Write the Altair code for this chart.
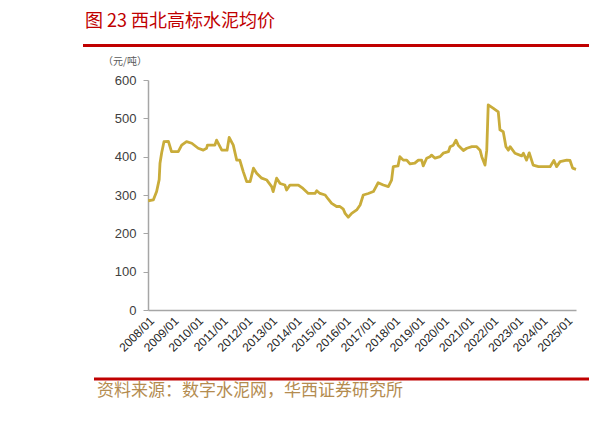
import altair as alt
import pandas as pd

dates = [
    "2008-01-04", "2008-03-20", "2008-05-08", "2008-06-15", "2008-06-27", "2008-07-22",
    "2008-08-25", "2008-10-30", "2008-12-15", "2009-03-25", "2009-05-15", "2009-07-26",
    "2009-10-12", "2010-01-15", "2010-04-01", "2010-05-20", "2010-06-01", "2010-09-20",
    "2010-10-15", "2011-01-01", "2011-03-20", "2011-04-20", "2011-06-20", "2011-08-10",
    "2011-09-25", "2011-11-15", "2012-01-05", "2012-02-25", "2012-04-15", "2012-06-01",
    "2012-08-15", "2012-10-30", "2013-01-10", "2013-02-01", "2013-03-25", "2013-05-15",
    "2013-07-25", "2013-08-20", "2013-10-08", "2014-02-10", "2014-04-20", "2014-07-08",
    "2014-10-15", "2014-11-10", "2014-12-28", "2015-03-15", "2015-05-01", "2015-06-20",
    "2015-09-01", "2015-10-20", "2015-12-10", "2016-01-05", "2016-02-20", "2016-04-12",
    "2016-06-25", "2016-08-15", "2016-10-01", "2016-12-15", "2017-02-28", "2017-05-10",
    "2017-07-25", "2017-10-08", "2017-11-25", "2017-12-20", "2018-03-01", "2018-03-28",
    "2018-05-18", "2018-07-08", "2018-08-25", "2018-11-05", "2018-12-28", "2019-02-15",
    "2019-03-10", "2019-04-30", "2019-06-18", "2019-07-12", "2019-09-01", "2019-11-15",
    "2020-01-01", "2020-03-18", "2020-04-12", "2020-05-30", "2020-07-08", "2020-08-10",
    "2020-10-26", "2020-12-16", "2021-03-01", "2021-05-12", "2021-07-01", "2021-07-26",
    "2021-09-12", "2021-10-08", "2021-10-30", "2022-01-15", "2022-03-28", "2022-04-22",
    "2022-06-10", "2022-07-20", "2022-08-25", "2022-09-20", "2022-12-01", "2023-03-10",
    "2023-04-05", "2023-05-22", "2023-07-01", "2023-08-28", "2023-11-15", "2024-05-05",
    "2024-07-01", "2024-08-10", "2024-10-01", "2025-01-08", "2025-02-25", "2025-04-05",
    "2025-05-25",
]
prices = [
    285, 287, 309, 340, 383, 410,
    439, 440, 413, 413, 430, 439,
    435, 422, 417, 422, 430, 430,
    443, 417, 417, 450, 430, 391,
    391, 361, 335, 335, 370, 357,
    344, 339, 322, 309, 344, 330,
    326, 313, 326, 326, 317, 304,
    304, 311, 304, 300, 289, 278,
    270, 270, 263, 252, 242, 252,
    261, 274, 300, 304, 309, 332,
    326, 322, 339, 374, 376, 400,
    391, 391, 381, 383, 391, 391,
    376, 396, 400, 404, 396, 400,
    409, 413, 426, 430, 443, 430,
    416, 422, 426, 426, 417, 400,
    378, 417, 535, 526, 517, 470,
    465, 426, 417, 426, 409, 402,
    409, 391, 410, 378, 374, 374,
    390, 374, 387, 391, 390, 370,
    367,
]
years = list(range(2008, 2026))
y_ticks = [0, 100, 200, 300, 400, 500, 600]

title_text = "图 23 西北高标水泥均价"
unit_text = "（元/吨）"
source_text = "资料来源：数字水泥网，华西证券研究所"

df = pd.DataFrame({"date": dates, "price": prices})

RED = "#C00000"
CJK = "Noto Sans CJK SC"
LAT = "Liberation Sans"

x_enc = alt.X(
    "date:T",
    scale=alt.Scale(
        type="utc",
        domain=[alt.DateTime(year=2008, month=1, date=1, utc=True),
                alt.DateTime(year=2025, month=5, date=25, utc=True)],
    ),
    axis=alt.Axis(
        values=[alt.DateTime(year=y, month=1, date=1, utc=True) for y in years],
        format="%Y/%m",
        labelAngle=-45,
        labelFontSize=12,
        labelFont=LAT,
        labelColor="#262626",
        ticks=False,
        labelPadding=5,
        domainColor="#a6a6a6",
        domainWidth=1.5,
        grid=False,
        title=None,
        labelOverlap=False,
    ),
)
y_enc = alt.Y(
    "price:Q",
    scale=alt.Scale(domain=[0, 600]),
    axis=alt.Axis(
        values=y_ticks,
        labelFontSize=13,
        labelFont=LAT,
        labelColor="#404040",
        tickSize=5,
        tickColor="#a6a6a6",
        domainColor="#a6a6a6",
        domainWidth=1.5,
        labelPadding=7,
        grid=False,
        title=None,
    ),
)

line = alt.Chart(df).mark_line(color="#C9AC3A", strokeWidth=2.8, strokeJoin="round").encode(
    x=x_enc, y=y_enc
)

blank = alt.Data(values=[{"a": 1}])

title = alt.Chart(blank).mark_text(
    text=title_text, font=CJK, fontSize=18, color=RED, align="left", baseline="middle"
).encode(x=alt.value(-63), y=alt.value(-58))

top_rule = alt.Chart(blank).mark_rule(color=RED, strokeWidth=3).encode(
    x=alt.value(-65), x2=alt.value(441), y=alt.value(-34.5)
)

unit = alt.Chart(blank).mark_text(
    text=unit_text, font=CJK, fontSize=10, color="#595959", align="left", baseline="middle"
).encode(x=alt.value(-45), y=alt.value(-18))

bottom_rule = alt.Chart(blank).mark_rule(color=RED, strokeWidth=3).encode(
    x=alt.value(-54), x2=alt.value(441), y=alt.value(299)
)

source = alt.Chart(blank).mark_text(
    text=source_text, font=CJK, fontSize=17, color="#B48C50", align="left", baseline="middle"
).encode(x=alt.value(-51), y=alt.value(311))

chart = alt.layer(line, title, top_rule, unit, bottom_rule, source).properties(
    width=428,
    height=230,
    padding={"left": 140, "top": 72, "right": 13, "bottom": 100},
    autosize=alt.AutoSizeParams(type="none"),
).configure_view(stroke=None)

chart.save("out.html", embed_options={"renderer": "svg", "actions": False})
